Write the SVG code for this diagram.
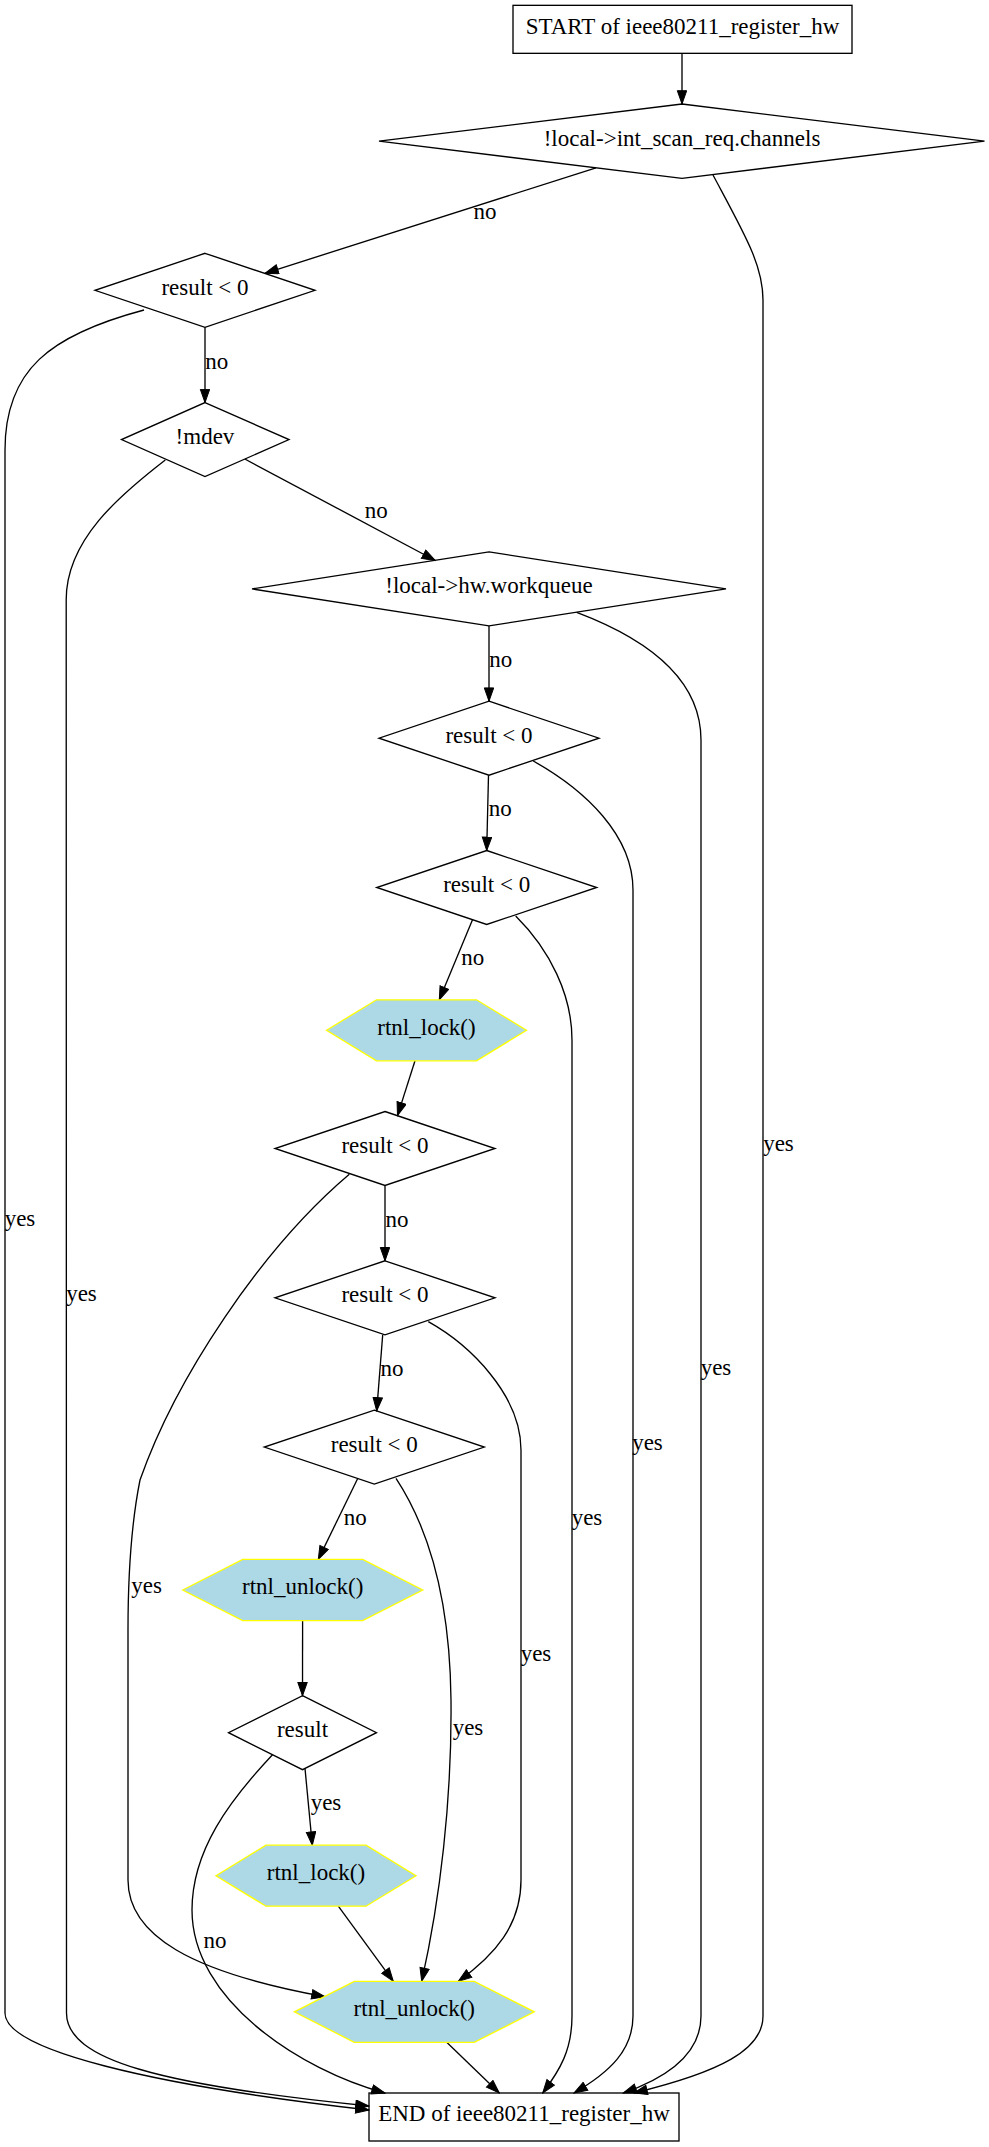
<svg xmlns="http://www.w3.org/2000/svg" width="989" height="2147" viewBox="0 0 989 2147">
<style>
.n{fill:none;stroke:#000;stroke-width:1.33}
.h{fill:#add8e6;stroke:#ffff00;stroke-width:1.33}
.e{fill:none;stroke:#000;stroke-width:1.33;marker-end:url(#arr)}
</style>
<defs>
<marker id="arr" markerUnits="userSpaceOnUse" markerWidth="15" markerHeight="11" viewBox="0 0 15 11" refX="14" refY="5.2" orient="auto">
<path d="M0.7,0.5 L14,5.2 L0.7,9.9 z" fill="#000" stroke="#000" stroke-width="1"/>
</marker>
</defs>
<rect x="0" y="0" width="989" height="2147" fill="#fff"/>

<g id="edges" font-family="'Liberation Serif', 'Times New Roman', serif" font-size="23" text-anchor="middle" fill="#000">
<path class="e" d="M682,53.3 L682,104"/>
<path class="e" d="M596,167.8 L265,273.3"/>
<text x="485" y="219">no</text>
<path class="e" d="M205,327.3 L205,402.6"/>
<text x="216.7" y="369">no</text>
<path class="e" d="M244.8,459 L435.3,560.5"/>
<text x="376.3" y="518">no</text>
<path class="e" d="M489,625.9 L489,701.2"/>
<text x="500.8" y="667">no</text>
<path class="e" d="M488.5,775.2 L486.7,850.5"/>
<text x="500.2" y="816">no</text>
<path class="e" d="M472.5,919.8 L439.3,999.8"/>
<text x="472.7" y="965">no</text>
<path class="e" d="M415,1060.8 L397.5,1115.6"/>
<path class="e" d="M385,1185.5 L385,1260.8"/>
<text x="397" y="1227">no</text>
<path class="e" d="M382.7,1334.8 L376.7,1410.9"/>
<text x="392" y="1376">no</text>
<path class="e" d="M357.7,1478.5 L318.3,1559.4"/>
<text x="355.3" y="1525">no</text>
<path class="e" d="M302.6,1620.6 L302.5,1695.7"/>
<path class="e" d="M305,1768.4 L312.3,1845.2"/>
<text x="326" y="1809.5">yes</text>
<path class="e" d="M338.3,1906.2 L393.3,1981.3"/>
<path class="e" d="M446.7,2042.3 L499.3,2093"/>

<path class="e" d="M713,175 C745,235 763,265 763,300 L763,2016 C763,2050 720,2072 634,2093"/>
<text x="778.5" y="1151">yes</text>
<path class="e" d="M144,310 C50,335 5,370 5,450 L5,2013 C5,2050 150,2085 369,2110"/>
<text x="20" y="1226">yes</text>
<path class="e" d="M165.3,460 C120,495 66,540 66.2,600 L66.5,2013 C66.5,2060 160,2085 369,2106"/>
<text x="81.5" y="1300.5">yes</text>
<path class="e" d="M576.7,612.3 C650,640 701,680 701,740 L701,2016 C701,2050 675,2075 623.3,2093"/>
<text x="716" y="1375">yes</text>
<path class="e" d="M533.3,761 C585,790 633,835 633,890 L633,2016 C633,2050 610,2072 574,2093"/>
<text x="647.5" y="1450">yes</text>
<path class="e" d="M515.7,916 C550,950 572,995 572,1040 L572,2016 C572,2050 560,2070 542.7,2093"/>
<text x="587" y="1524.5">yes</text>
<path class="e" d="M349.3,1174.3 C260,1250 175,1380 140,1480 C130,1530 128,1580 128,1630 L128,1880 C128,1935 190,1972 325,1996.7"/>
<text x="146.7" y="1592.5">yes</text>
<path class="e" d="M428.3,1321.7 C470,1345 521,1395 521,1450 L521,1880 C521,1925 495,1955 458.3,1981.3"/>
<text x="536" y="1661">yes</text>
<path class="e" d="M396,1478.3 C430,1530 450,1600 451,1700 C452,1800 440,1900 421.7,1981.3"/>
<text x="468" y="1735">yes</text>
<path class="e" d="M272.5,1754.7 C230,1800 192,1850 192,1910 C192,2000 300,2070 385,2093"/>
<text x="215" y="1948">no</text>
</g>

<g id="nodes" font-family="'Liberation Serif', 'Times New Roman', serif" font-size="23" text-anchor="middle" fill="#000">
<g id="start">
<rect class="n" x="513" y="5.33" width="339" height="48"/>
<text x="682.5" y="33.5">START of ieee80211_register_hw</text>
</g>
<g id="d1">
<polygon class="n" points="682,104 984.5,141.2 682,178.3 379,141.2"/>
<text x="682" y="145.5">!local-&gt;int_scan_req.channels</text>
</g>
<g id="r1">
<polygon class="n" points="205,253.3 315,290.3 205,327.3 95,290.3"/>
<text x="205" y="294.8">result &lt; 0</text>
</g>
<g id="mdev">
<polygon class="n" points="205,402.6 289,439.6 205,476.6 121.5,439.6"/>
<text x="205" y="444">!mdev</text>
</g>
<g id="wq">
<polygon class="n" points="489,551.9 726,588.9 489,625.9 252,588.9"/>
<text x="489" y="593.4">!local-&gt;hw.workqueue</text>
</g>
<g id="r2">
<polygon class="n" points="489,701.2 599,738.2 489,775.2 379,738.2"/>
<text x="489" y="742.7">result &lt; 0</text>
</g>
<g id="r3">
<polygon class="n" points="486.7,850.5 596.7,887.5 486.7,924.5 376.7,887.5"/>
<text x="486.7" y="892">result &lt; 0</text>
</g>
<g id="lock1">
<polygon class="h" points="326.5,1030.3 376.5,999.8 476.5,999.8 526.5,1030.3 476.5,1060.8 376.5,1060.8"/>
<text x="426.5" y="1034.5">rtnl_lock()</text>
</g>
<g id="r4">
<polygon class="n" points="385,1111.5 495,1148.5 385,1185.5 275,1148.5"/>
<text x="385" y="1153">result &lt; 0</text>
</g>
<g id="r5">
<polygon class="n" points="385,1260.8 495,1297.8 385,1334.8 275,1297.8"/>
<text x="385" y="1302.3">result &lt; 0</text>
</g>
<g id="r6">
<polygon class="n" points="374.3,1410.1 484.3,1447.1 374.3,1484.1 264.3,1447.1"/>
<text x="374.3" y="1451.6">result &lt; 0</text>
</g>
<g id="unlock1">
<polygon class="h" points="182.7,1590 242.7,1559.4 362.7,1559.4 422.7,1590 362.7,1620.6 242.7,1620.6"/>
<text x="302.7" y="1594.2">rtnl_unlock()</text>
</g>
<g id="result">
<polygon class="n" points="302.5,1695.7 376.5,1732.7 302.5,1769.7 228.5,1732.7"/>
<text x="302.5" y="1737.2">result</text>
</g>
<g id="lock2">
<polygon class="h" points="216,1875.7 266,1845.2 366,1845.2 416,1875.7 366,1906.2 266,1906.2"/>
<text x="316" y="1879.9">rtnl_lock()</text>
</g>
<g id="unlock2">
<polygon class="h" points="294.3,2011.8 354.3,1981.3 474.3,1981.3 534.3,2011.8 474.3,2042.3 354.3,2042.3"/>
<text x="414.3" y="2016">rtnl_unlock()</text>
</g>
<g id="end">
<rect class="n" x="369" y="2093" width="310" height="48"/>
<text x="524" y="2121">END of ieee80211_register_hw</text>
</g>
</g>
</svg>
